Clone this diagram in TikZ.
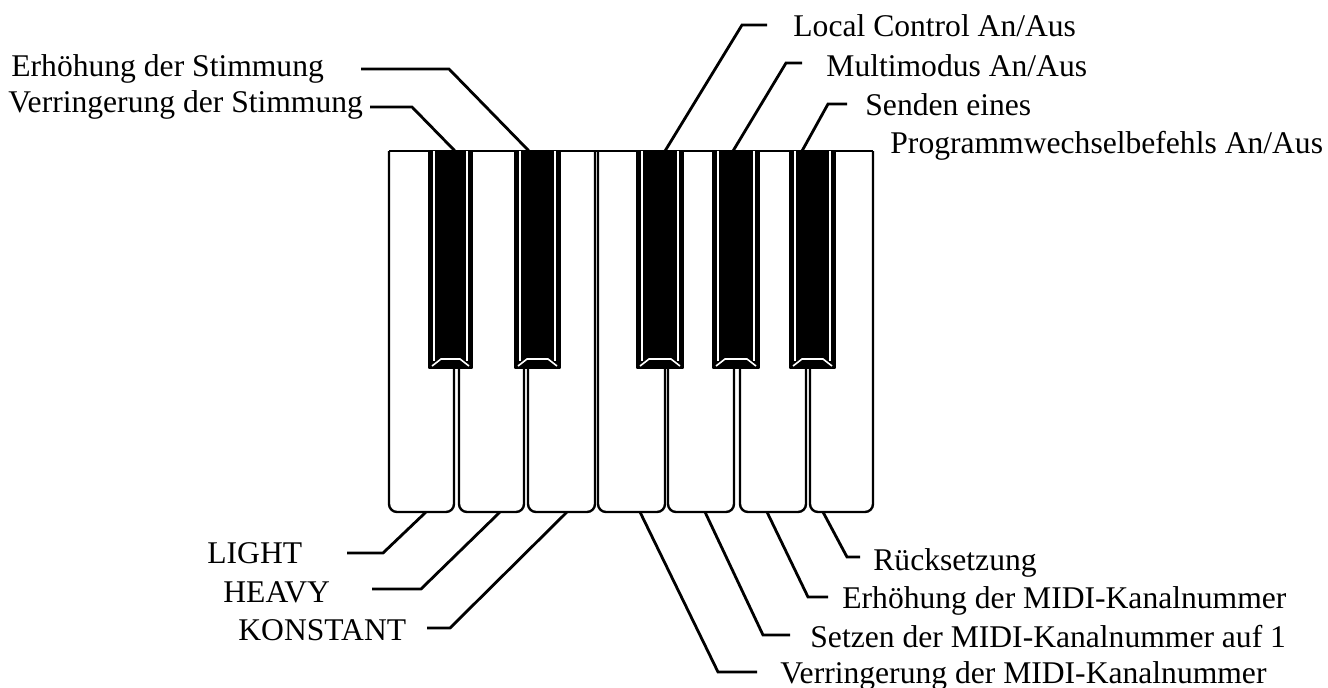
\documentclass[tikz,border=0pt]{standalone}
\usepackage{fontspec}
\setmainfont{Liberation Serif}
\begin{document}
\begin{tikzpicture}[x=0.5pt,y=-0.5pt,
  keyline/.style={line width=1.2pt, line join=round},
  bevel/.style={white, line width=0.8pt},
  leader/.style={line width=1.4pt, line join=miter},
  lbl/.style={inner sep=0pt, anchor=base west, font=\fontsize{15.8}{18}\selectfont},
  ]
\useasboundingbox (0,0) rectangle (1328,687);

% ---------- white keys ----------
\foreach \xa/\xb in {389/454, 459/524, 528/595, 598/665, 668/734, 740/806, 810/873}{
  \draw[keyline, rounded corners=4] (\xa,151) -- (\xa,512) -- (\xb,512) -- (\xb,151);
}
\draw[keyline] (389,151) -- (873,151);

% ---------- black keys ----------
\foreach \xa/\xb in {429/472, 515/560, 637/683, 713/759, 790/835}{
  \filldraw[keyline, fill=black] (\xa,151) rectangle (\xb,368);
  \draw[bevel] (\xa+5,151) -- (\xa+5,361);
  \draw[bevel] (\xb-5,151) -- (\xb-5,361);
  \draw[bevel] (\xa+3,366) -- (\xa+12,359) -- (\xb-12,359) -- (\xb-3,366);
}

% ---------- attach points on the keys ----------
\coordinate (kb1) at (455,151);
\coordinate (kb2) at (529,151);
\coordinate (kb3) at (665,151);
\coordinate (kb4) at (733,151);
\coordinate (kb5) at (802,151);
\coordinate (kw1) at (426,512);
\coordinate (kw2) at (500,512);
\coordinate (kw3) at (567,512);
\coordinate (kw4) at (640,512);
\coordinate (kw5) at (705,512);
\coordinate (kw6) at (767,512);
\coordinate (kw7) at (823,512);

% ---------- labels ----------
\node[lbl] (terh)  at (11,76)  {Erhöhung der Stimmung};
\node[lbl] (tver)  at (8,112)  {Verringerung der Stimmung};
\node[lbl] (tloc)  at (793,36) {Local Control An/Aus};
\node[lbl] (tmul)  at (826,76) {Multimodus An/Aus};
\node[lbl] (tsen)  at (865,115) {Senden eines};
\node[lbl] (tprg)  at (890,153) {Programmwechselbefehls An/Aus};
\node[lbl] (tlig)  at (207,563) {LIGHT};
\node[lbl] (thea)  at (223,602) {HEAVY};
\node[lbl] (tkon)  at (238,640) {KONSTANT};
\node[lbl] (true)  at (873,570) {Rücksetzung};
\node[lbl] (term)  at (842,608) {Erhöhung der MIDI-Kanalnummer};
\node[lbl] (tset)  at (810,647) {Setzen der MIDI-Kanalnummer auf 1};
\node[lbl] (tvem)  at (780,683) {Verringerung der MIDI-Kanalnummer};

% ---------- leader end points and elbows ----------
\coordinate (erhA) at (361,69);  \coordinate (erhB) at (449,69);
\coordinate (verA) at (370,107); \coordinate (verB) at (412,107);
\coordinate (locA) at (767,25);  \coordinate (locB) at (742,25);
\coordinate (mulA) at (802,63);  \coordinate (mulB) at (786,63);
\coordinate (senA) at (847,104); \coordinate (senB) at (828,104);
\coordinate (ligA) at (347,553); \coordinate (ligB) at (383,553);
\coordinate (heaA) at (372,589); \coordinate (heaB) at (421,589);
\coordinate (konA) at (427,628); \coordinate (konB) at (450,628);
\coordinate (rueA) at (860,557); \coordinate (rueB) at (847,557);
\coordinate (ermA) at (828,597); \coordinate (ermB) at (808,597);
\coordinate (setA) at (790,635); \coordinate (setB) at (763,635);
\coordinate (vemA) at (757,672); \coordinate (vemB) at (718,672);

% ---------- leaders ----------
\draw[leader] (erhA) -- (erhB) -- (kb2);
\draw[leader] (verA) -- (verB) -- (kb1);
\draw[leader] (locA) -- (locB) -- (kb3);
\draw[leader] (mulA) -- (mulB) -- (kb4);
\draw[leader] (senA) -- (senB) -- (kb5);
\draw[leader] (ligA) -- (ligB) -- (kw1);
\draw[leader] (heaA) -- (heaB) -- (kw2);
\draw[leader] (konA) -- (konB) -- (kw3);
\draw[leader] (rueA) -- (rueB) -- (kw7);
\draw[leader] (ermA) -- (ermB) -- (kw6);
\draw[leader] (setA) -- (setB) -- (kw5);
\draw[leader] (vemA) -- (vemB) -- (kw4);
\end{tikzpicture}
\end{document}
